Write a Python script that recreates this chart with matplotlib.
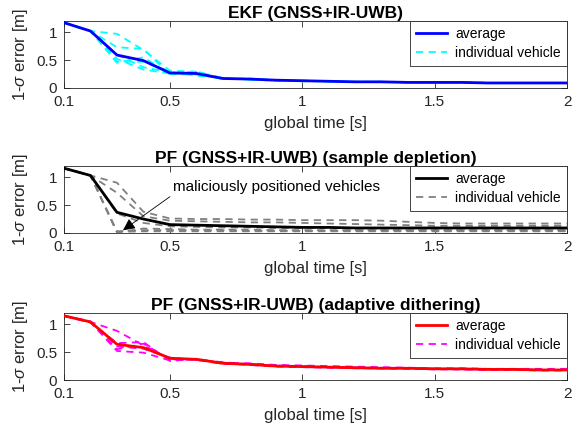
import numpy as np
import matplotlib
matplotlib.use('Agg')
from matplotlib import pyplot as plt

plt.rcParams['font.family'] = ['Liberation Sans', 'DejaVu Sans']
plt.rcParams['mathtext.fontset'] = 'custom'
plt.rcParams['mathtext.rm'] = 'Liberation Sans'
plt.rcParams['mathtext.it'] = 'Liberation Sans:italic'

t = np.round(np.arange(0.1, 2.01, 0.1), 1)

# EKF (GNSS+IR-UWB)
ekf_avg = [1.17, 1.02, 0.59, 0.49, 0.27, 0.26, 0.17, 0.16, 0.14, 0.13,
           0.12, 0.11, 0.11, 0.10, 0.10, 0.10, 0.09, 0.09, 0.09, 0.09]
ekf_veh = [
    [1.17, 1.02, 0.97, 0.68, 0.31, 0.29, 0.18, 0.16, 0.14, 0.13, 0.12, 0.11, 0.11, 0.10, 0.10, 0.10, 0.09, 0.09, 0.09, 0.09],
    [1.17, 1.02, 0.73, 0.70, 0.24, 0.30, 0.16, 0.17, 0.14, 0.13, 0.12, 0.11, 0.11, 0.10, 0.10, 0.10, 0.09, 0.09, 0.09, 0.09],
    [1.17, 1.02, 0.47, 0.47, 0.29, 0.22, 0.18, 0.15, 0.13, 0.13, 0.12, 0.11, 0.11, 0.10, 0.10, 0.10, 0.09, 0.09, 0.09, 0.09],
    [1.17, 1.02, 0.52, 0.33, 0.26, 0.28, 0.16, 0.16, 0.14, 0.12, 0.12, 0.11, 0.11, 0.10, 0.10, 0.10, 0.09, 0.09, 0.09, 0.09],
    [1.17, 1.02, 0.45, 0.55, 0.25, 0.24, 0.17, 0.15, 0.14, 0.13, 0.12, 0.11, 0.11, 0.10, 0.10, 0.10, 0.09, 0.09, 0.09, 0.09],
    [1.17, 1.02, 0.60, 0.37, 0.28, 0.25, 0.16, 0.16, 0.13, 0.13, 0.12, 0.11, 0.11, 0.10, 0.10, 0.10, 0.09, 0.09, 0.09, 0.09],
]

# PF (sample depletion)
pf_avg = [1.16, 1.03, 0.37, 0.25, 0.15, 0.14, 0.13, 0.12, 0.11, 0.10,
          0.10, 0.09, 0.09, 0.09, 0.09, 0.09, 0.09, 0.09, 0.09, 0.09]
pf_veh = [
    [1.16, 1.03, 0.90, 0.38, 0.26, 0.25, 0.25, 0.24, 0.24, 0.23, 0.23, 0.23, 0.22, 0.20, 0.18, 0.17, 0.17, 0.17, 0.17, 0.17],
    [1.16, 1.03, 0.72, 0.30, 0.22, 0.21, 0.20, 0.19, 0.19, 0.18, 0.17, 0.16, 0.15, 0.14, 0.13, 0.13, 0.13, 0.13, 0.13, 0.13],
    [1.16, 1.03, 0.02, 0.03, 0.03, 0.03, 0.03, 0.03, 0.03, 0.03, 0.03, 0.03, 0.03, 0.03, 0.03, 0.03, 0.03, 0.03, 0.03, 0.03],
    [1.16, 1.03, 0.03, 0.05, 0.05, 0.05, 0.05, 0.04, 0.04, 0.04, 0.04, 0.04, 0.04, 0.04, 0.04, 0.04, 0.04, 0.04, 0.04, 0.04],
    [1.16, 1.03, 0.01, 0.08, 0.07, 0.06, 0.06, 0.06, 0.05, 0.05, 0.05, 0.05, 0.05, 0.05, 0.05, 0.05, 0.05, 0.05, 0.05, 0.05],
    [1.16, 1.03, 0.35, 0.18, 0.12, 0.11, 0.10, 0.10, 0.09, 0.09, 0.09, 0.08, 0.08, 0.08, 0.08, 0.08, 0.08, 0.08, 0.08, 0.08],
]

# PF (adaptive dithering)
ad_avg = [1.15, 1.04, 0.64, 0.58, 0.39, 0.37, 0.30, 0.28, 0.25, 0.24,
          0.23, 0.22, 0.21, 0.21, 0.20, 0.20, 0.19, 0.19, 0.18, 0.18]
ad_veh = [
    [1.15, 1.04, 0.88, 0.62, 0.38, 0.37, 0.31, 0.30, 0.27, 0.26, 0.25, 0.24, 0.23, 0.22, 0.21, 0.21, 0.20, 0.20, 0.20, 0.20],
    [1.15, 1.03, 0.55, 0.65, 0.37, 0.36, 0.29, 0.28, 0.25, 0.24, 0.23, 0.22, 0.21, 0.21, 0.20, 0.19, 0.19, 0.19, 0.18, 0.18],
    [1.15, 1.04, 0.52, 0.49, 0.35, 0.38, 0.30, 0.27, 0.24, 0.23, 0.22, 0.21, 0.21, 0.20, 0.19, 0.19, 0.18, 0.18, 0.17, 0.17],
    [1.15, 1.05, 0.60, 0.56, 0.40, 0.36, 0.32, 0.28, 0.26, 0.25, 0.23, 0.22, 0.22, 0.21, 0.20, 0.20, 0.19, 0.19, 0.18, 0.18],
    [1.15, 1.03, 0.66, 0.68, 0.34, 0.38, 0.29, 0.29, 0.25, 0.24, 0.23, 0.22, 0.21, 0.21, 0.20, 0.20, 0.19, 0.19, 0.18, 0.18],
]

titles = ['EKF (GNSS+IR-UWB)', 'PF (GNSS+IR-UWB) (sample depletion)',
          'PF (GNSS+IR-UWB) (adaptive dithering)']
avgs = [ekf_avg, pf_avg, ad_avg]
vehs = [ekf_veh, pf_veh, ad_veh]
avg_colors = ['#0000ff', '#000000', '#ff0000']
veh_colors = ['#00ffff', '#808080', '#ff00ff']

ax_col = '#262626'
fig = plt.figure(figsize=(5.84, 4.29), dpi=100)
bottoms = [0.7949, 0.4569, 0.1142]

for i in range(3):
    ax = fig.add_axes([0.1096, bottoms[i], 0.8613, 0.1562])
    ax.plot(t, avgs[i], color=avg_colors[i], lw=2, label='average', zorder=3)
    for k, v in enumerate(vehs[i]):
        ax.plot(t, v, color=veh_colors[i], lw=1.3, ls=(0, (4, 3)),
                label='individual vehicle' if k == 0 else None, zorder=2)
    ax.set_xlim(0.1, 2)
    ax.set_ylim(0, 1.2)
    ax.set_xticks([0.1, 0.5, 1, 1.5, 2])
    ax.set_xticklabels(['0.1', '0.5', '1', '1.5', '2'])
    ax.set_yticks([0, 0.5, 1])
    ax.set_yticklabels(['0', '0.5', '1'])
    ax.tick_params(direction='in', top=True, right=True, length=4, width=0.6,
                   colors=ax_col, labelsize=11, pad=5)
    for s in ax.spines.values():
        s.set_color(ax_col)
        s.set_linewidth(0.6)
    ax.set_title(titles[i], fontsize=12.5, fontweight='bold', pad=2)
    ax.set_xlabel('global time [s]', fontsize=12, color=ax_col, labelpad=5)
    ax.set_ylabel(r'1-$\sigma$ error [m]', fontsize=12, color=ax_col, labelpad=4)
    leg = ax.legend(loc='upper right', fontsize=10, handlelength=2.2,
                    handletextpad=0.6, fancybox=False, framealpha=1,
                    borderpad=0.45, labelspacing=0.35, borderaxespad=0)
    leg.get_frame().set_edgecolor(ax_col)
    leg.get_frame().set_linewidth(0.6)
    if i == 1:
        ax.annotate('', xy=(0.323, 0.05), xytext=(0.50, 0.65),
                    arrowprops=dict(arrowstyle='-|>', color='black', lw=0.6,
                                    mutation_scale=18, shrinkA=0, shrinkB=0))
        ax.text(0.51, 0.82, 'maliciously positioned vehicles', fontsize=11,
                color='black', va='center', ha='left')

fig.savefig('out.png', dpi=100)
